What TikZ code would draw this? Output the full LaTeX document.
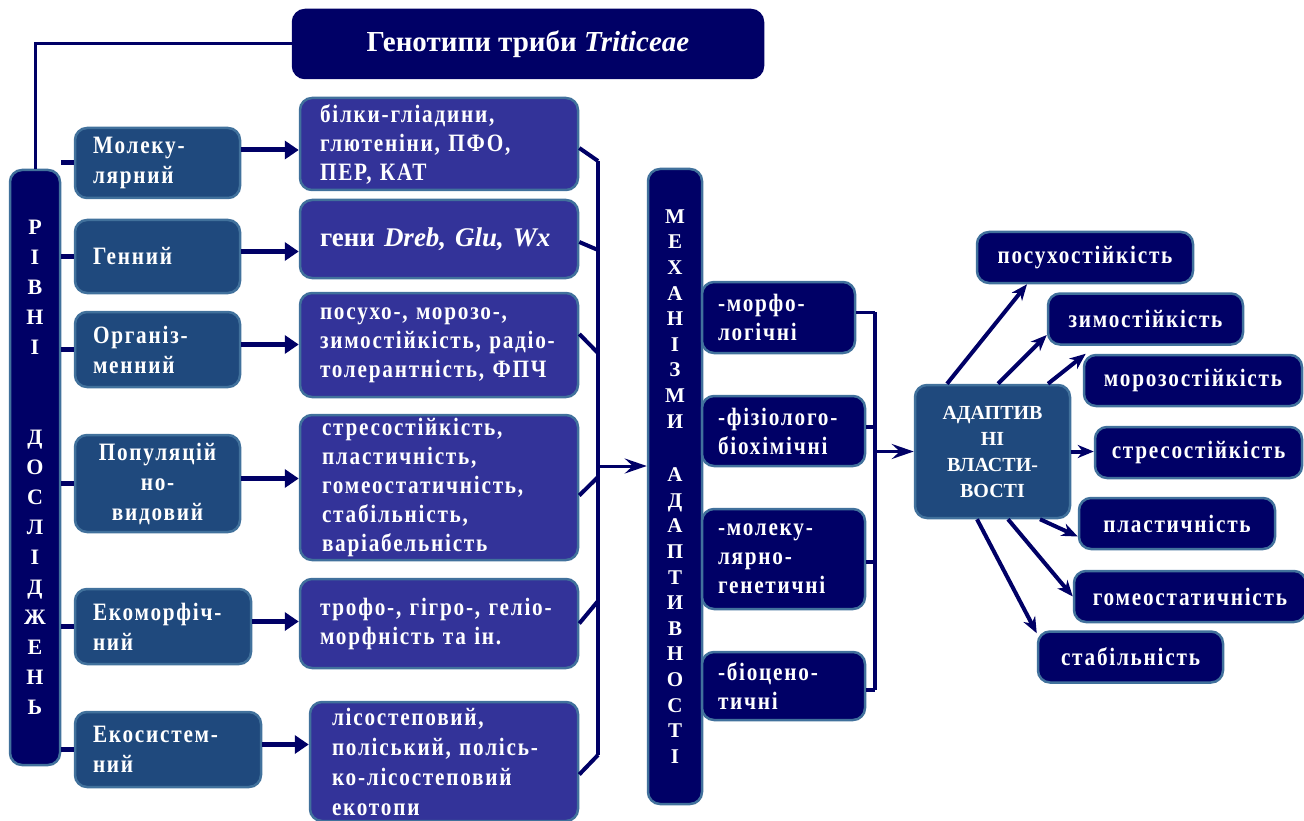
\documentclass[tikz,border=0pt]{standalone}
\usepackage{fontspec}
\setmainfont{Liberation Serif}
\newfontfamily\narrowfont[FakeStretch=0.85, LetterSpace=7]{Liberation Serif}
\usepackage{xcolor}
\usetikzlibrary{arrows.meta, calc}

\definecolor{navy}{HTML}{000066}
\definecolor{levelblue}{HTML}{1F497D}
\definecolor{descblue}{HTML}{333399}
\definecolor{rimblue}{HTML}{41719C}

\begin{document}
\begin{tikzpicture}[x=1pt, y=-1pt,
  box/.style={draw=rimblue, line width=2.5pt, rounded corners=12pt, text=white, inner sep=0pt},
  level/.style={box, fill=levelblue, align=left, inner xsep=18pt, minimum width=165pt, text width=129pt, font=\narrowfont\bfseries\fontsize{25}{30}\selectfont},
  desc/.style={box, fill=descblue, align=left, inner xsep=20pt, minimum width=278pt, text width=238pt, font=\narrowfont\bfseries\fontsize{25}{29}\selectfont},
  dark/.style={box, fill=navy},
  mech/.style={dark, align=left, inner xsep=16pt, minimum width=163pt, text width=131pt, font=\narrowfont\bfseries\fontsize{25}{29}\selectfont},
  prop/.style={dark, minimum height=51pt, font=\narrowfont\bfseries\fontsize{25}{26}\selectfont},
  link/.style={draw=navy, line width=4pt},
  thickarrow/.style={navy, line width=5pt, -{Triangle[length=14pt,width=18pt]}},
  openarrow/.style={navy, line width=3pt, -{Stealth[length=22pt,width=15pt,inset=8pt]}},
  proparrow/.style={navy, line width=4pt, -{Stealth[length=16pt,width=13pt,inset=5pt]}}]
  \useasboundingbox (0,0) rectangle (1304,821);

  % ---- title and left bar ----
  \node[dark, draw=navy, minimum width=470pt, minimum height=68pt, font=\bfseries\fontsize{29}{30}\selectfont] (title) at (528,44) {Генотипи триби \textit{Triticeae}};
  \node[dark, minimum width=50pt, minimum height=595pt, align=center, font=\bfseries\fontsize{22}{30}\selectfont] (bar) at (35,467.5)
    {Р\\І\\В\\Н\\І\\[60pt]Д\\О\\С\\Л\\І\\Д\\Ж\\Е\\Н\\Ь};
  \draw[navy, line width=3pt] (title.west) -| (bar.north);

  % ---- levels ----
  \node[level, minimum height=70pt] (lmol) at (157.5,163) {Молеку-\\лярний};
  \node[level, minimum height=73pt] (lgen) at (157.5,256.5) {Генний};
  \node[level, minimum height=75pt] (lorg) at (157.5,349.5) {Організ-\\менний};
  \node[level, minimum height=97pt, align=center] (lpop) at (157.5,483.5) {Популяцій\\но-\\видовий};
  \node[level, minimum width=176pt, text width=140pt, minimum height=75pt] (leco) at (163,626.5) {Екоморфіч-\\ний};
  \node[level, minimum width=186pt, text width=150pt, minimum height=75pt] (lecs) at (168,749.5) {Екосистем-\\ний};
  \foreach \n in {lmol,lgen,lorg,lpop,leco,lecs}
    \draw[link, line width=5pt] (\n.west -| bar.east) -- (\n.west);

  % ---- descriptions ----
  \node[desc, minimum height=92pt] (d1) at (439,144) {білки-гліадини,\\глютеніни, ПФО,\\ПЕР, КАТ};
  \node[desc, minimum height=78pt, font=\bfseries\fontsize{27}{29}\selectfont] (d2) at (439,239) {гени \textit{Dreb, Glu, Wx}};
  \node[desc, minimum height=104pt] (d3) at (439,345) {посухо-, морозо-,\\зимостійкість, радіо-\\толерантність, ФПЧ};
  \node[desc, minimum height=145pt, text width=234pt, inner xsep=22pt] (d4) at (439,487.5) {стресостійкість,\\пластичність,\\гомеостатичність,\\стабільність,\\варіабельність};
  \node[desc, minimum height=89pt] (d5) at (439,623.5) {трофо-, гігро-, геліо-\\морфність та ін.};
  \node[desc, minimum width=268pt, text width=224pt, minimum height=119pt, inner xsep=22pt, font=\narrowfont\bfseries\fontsize{25}{30}\selectfont] (d6) at (444,761.5) {лісостеповий,\\поліський, полісь-\\ко-лісостеповий\\екотопи};
  \foreach \a/\b/\s in {lmol/d1/13, lgen/d2/5, lorg/d3/5, lpop/d4/5, leco/d5/5, lecs/d6/5}
    \draw[thickarrow] ([yshift=\s pt]\a.east) -- ([yshift=\s pt]\a.east -| \b.west);

  % ---- bracket to mechanisms ----
  \coordinate (br1) at (598,161);
  \coordinate (br2) at (598,250);
  \coordinate (br3) at (598,353);
  \coordinate (br4) at (598,477);
  \coordinate (br5) at (598,601);
  \coordinate (br6) at (598,755);
  \coordinate (brm) at (598,466);
  \draw[link] (br1) -- (br6);
  \draw[link] ([yshift=-4pt]d1.east) -- (br1);
  \draw[link] ([yshift=-3pt]d2.east) -- (br2);
  \draw[link] ([yshift=11pt]d3.east) -- (br3);
  \draw[link] ([yshift=-8pt]d4.east) -- (br4);
  \draw[link] (d5.east) -- (br5);
  \draw[link] ([yshift=-13pt]d6.east) -- (br6);

  % ---- mechanisms ----
  \node[dark, minimum width=54pt, minimum height=635pt, align=center, font=\bfseries\fontsize{21}{25.6}\selectfont] (mbar) at (675,486.5)
    {М\\Е\\Х\\А\\Н\\І\\З\\М\\И\\[28pt]А\\Д\\А\\П\\Т\\И\\В\\Н\\О\\С\\Т\\І};
  \draw[openarrow] (brm) -- (brm -| mbar.west);
  \node[mech, minimum width=153pt, text width=121pt, minimum height=71pt] (m1) at (778.5,317.5) {-морфо-\\логічні};
  \node[mech, minimum height=70pt] (m2) at (783.5,431) {-фізіолого-\\біохімічні};
  \node[mech, minimum height=100pt] (m3) at (783.5,559) {-молеку-\\лярно-\\генетичні};
  \node[mech, minimum height=68pt] (m4) at (783.5,686) {-біоцено-\\тичні};
  \coordinate (rbt) at (875,312);
  \coordinate (rbb) at (875,690);
  \draw[link, line width=3.5pt] (rbt) -- (rbb);
  \foreach \n/\s in {m1/5, m2/4, m3/-3, m4/-4}
    \draw[link, line width=3.5pt] ([yshift=\s pt]\n.east) -- ([yshift=\s pt]\n.east -| rbt);

  % ---- adaptive properties ----
  \node[box, fill=levelblue, minimum width=155pt, minimum height=133pt, align=center, font=\bfseries\fontsize{20}{26}\selectfont] (adapt) at (992.5,451.5)
    {АДАПТИВ\\НІ\\ВЛАСТИ-\\ВОСТІ};
  \draw[openarrow] (adapt.west -| rbt) -- (adapt.west);
  \node[prop, minimum width=216pt] (p1) at (1085,257.5) {посухостійкість};
  \node[prop, minimum width=195pt] (p2) at (1145.5,319) {зимостійкість};
  \node[prop, minimum width=218pt] (p3) at (1193,380.5) {морозостійкість};
  \node[prop, minimum width=207pt] (p4) at (1198.5,452.5) {стресостійкість};
  \node[prop, minimum width=196pt] (p5) at (1177,523.5) {пластичність};
  \node[prop, minimum width=232pt] (p6) at (1190,596.5) {гомеостатичність};
  \node[prop, minimum width=185pt] (p7) at (1130.5,657) {стабільність};
  \draw[proparrow] ([xshift=-45.5pt]adapt.north) -- ([xshift=-58pt]p1.south);
  \draw[proparrow] ([xshift=5.5pt]adapt.north) -- ([yshift=-16pt]p2.west);
  \draw[proparrow] ([xshift=55.5pt]adapt.north) -- ([xshift=3pt]p3.north west);
  \draw[proparrow] (adapt.east) -- (adapt.east -| p4.west);
  \draw[proparrow] ([xshift=47.5pt]adapt.south) -- ([yshift=-13pt]p5.west);
  \draw[proparrow] ([xshift=15.5pt]adapt.south) -- (p6.west);
  \draw[proparrow] ([xshift=-15.5pt]adapt.south) -- ([yshift=-3pt]p7.north west);
\end{tikzpicture}
\end{document}
